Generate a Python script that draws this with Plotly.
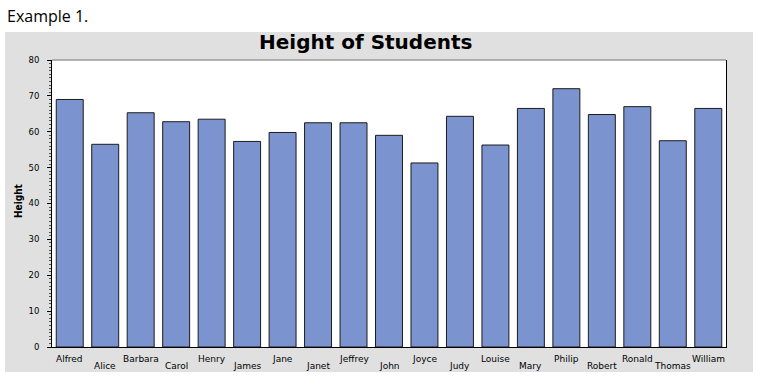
import plotly.graph_objects as go

names = ["Alfred", "Alice", "Barbara", "Carol", "Henry", "James", "Jane", "Janet",
         "Jeffrey", "John", "Joyce", "Judy", "Louise", "Mary", "Philip", "Robert",
         "Ronald", "Thomas", "William"]
heights = [69.0, 56.5, 65.3, 62.8, 63.5, 57.3, 59.8, 62.5, 62.5, 59.0, 51.3, 64.3,
           56.3, 66.5, 72.0, 64.8, 67.0, 57.5, 66.5]
y_ticks = [0, 10, 20, 30, 40, 50, 60, 70, 80]

W, H = 760, 376
L, R, T, B = 52, 726, 60, 347
pw, ph = R - L, B - T


def px(x):
    return (x - L) / pw


def py(y):
    return (B - y) / ph


fig = go.Figure()
fig.add_trace(go.Bar(
    x=names, y=heights, width=0.76,
    marker=dict(color="#7B93CE", line=dict(color="#1c1c1c", width=1)),
    hoverinfo="x+y",
))

label_family = "DejaVu Sans, Verdana, sans-serif"
tick_font = dict(family=label_family, size=8.5, color="#000")

annotations = []
for i, n in enumerate(names):
    annotations.append(dict(
        x=n, y=0, xref="x", yref="y", text=n, showarrow=False,
        yanchor="middle", xanchor="center",
        yshift=-12 if i % 2 == 0 else -19,
        font=dict(family=label_family, size=9, color="#000"),
    ))

annotations += [
    dict(x=px(5), y=py(16), xref="paper", yref="paper", text="Example 1.",
         showarrow=False, xanchor="left", yanchor="middle",
         font=dict(family="Open Sans, sans-serif", size=16, color="#000")),
    dict(x=px(365), y=py(42), xref="paper", yref="paper", text="<b>Height of Students</b>",
         showarrow=False, xanchor="center", yanchor="middle",
         font=dict(family="DejaVu Sans, Arial, sans-serif", size=20, color="#000")),
    dict(x=px(18), y=py(201), xref="paper", yref="paper", text="<b>Height</b>",
         showarrow=False, xanchor="center", yanchor="middle", textangle=-90,
         font=dict(family="Liberation Sans Narrow, DejaVu Sans Condensed, sans-serif",
                   size=10, color="#000")),
]

shapes = [
    dict(type="rect", xref="paper", yref="paper", layer="below",
         x0=px(5), x1=px(753), y0=py(372), y1=py(32),
         fillcolor="#E0E0E0", line=dict(width=0)),
    dict(type="rect", xref="paper", yref="paper", layer="below",
         x0=0, x1=1, y0=0, y1=1, fillcolor="#FFFFFF", line=dict(width=0)),
    dict(type="line", xref="paper", yref="paper", x0=0, x1=1, y0=1, y1=1,
         line=dict(color="#9a9a9a", width=1.5)),
]

fig.update_layout(
    width=W, height=H,
    margin=dict(l=L, r=W - R, t=T, b=H - B, pad=0),
    paper_bgcolor="#FFFFFF", plot_bgcolor="#FFFFFF",
    showlegend=False,
    annotations=annotations,
    shapes=shapes,
    xaxis=dict(
        range=[-0.5, 18.5], showticklabels=False, ticks="",
        showline=True, linecolor="#000", linewidth=1, mirror=False,
        showgrid=False, zeroline=False, fixedrange=True,
    ),
    yaxis=dict(
        range=[0, 80], tickvals=y_ticks, ticktext=[str(v) for v in y_ticks],
        ticks="outside", ticklen=4, tickwidth=1, tickcolor="#000",
        ticklabelstandoff=6,
        minor=dict(dtick=1, ticks="outside", ticklen=2, tickcolor="#555", tickwidth=1),
        tickfont=tick_font,
        showline=True, linecolor="#000", linewidth=1, mirror=True,
        showgrid=False, zeroline=False, fixedrange=True,
    ),
)

fig.write_html(
    "out.html",
    config={"displayModeBar": False},
    post_script="document.body.style.margin='0px';document.body.style.overflow='hidden';",
)
